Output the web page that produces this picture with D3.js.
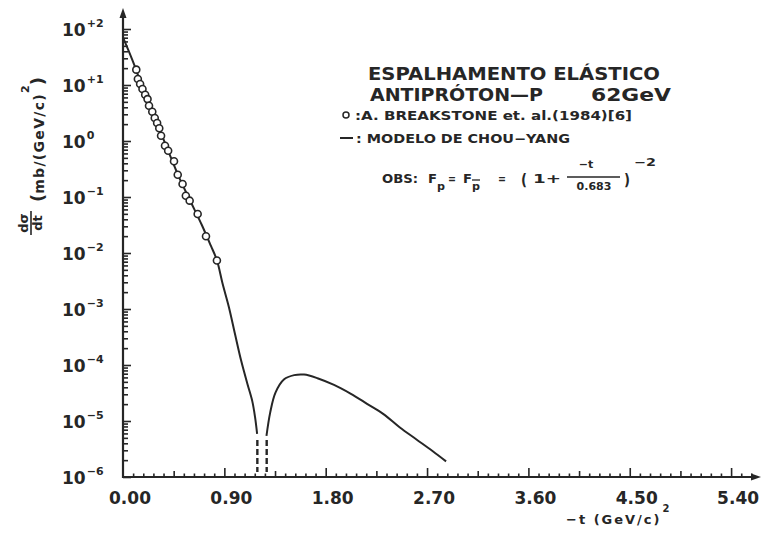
<!DOCTYPE html>
<html><head><meta charset="utf-8">
<script src="https://cdn.jsdelivr.net/npm/d3@7"></script>
<style>
body{margin:0;background:#fff}
svg{display:block}
text{font-family:"DejaVu Sans",sans-serif;font-weight:bold;fill:#262626}
</style>
</head><body>
<svg id="chart" width="768" height="533"></svg>
<script>
// ---- data ----
const dataT = [0.118,0.132,0.152,0.173,0.197,0.218,0.231,0.260,0.282,0.303,0.322,0.338,0.373,0.401,0.453,0.486,0.529,0.558,0.592,0.663,0.737,0.834];
const dataV = [18.8,12.8,10.4,8.5,6.7,5.6,4.27,3.33,2.58,2.10,1.69,1.24,0.824,0.671,0.434,0.250,0.171,0.105,0.086,0.0497,0.0199,0.00735];

const modelLeftT = [0,0.1,0.2,0.3,0.4,0.5,0.6,0.7,0.78,0.834,0.884,0.94,0.994,1.049,1.105,1.147,1.173,1.191];
const modelLeftV = [70.8,22.9,6.31,2.14,0.676,0.219,0.0832,0.0316,0.0135,0.00741,0.00285,0.00109,3.62e-4,1.2e-4,4.59e-5,2.31e-5,1.16e-5,5.9e-6];
const modelRightT = [1.274,1.307,1.354,1.431,1.52,1.608,1.727,1.874,2.02,2.167,2.313,2.459,2.606,2.751,2.869];
const modelRightV = [5.4e-6,1.41e-5,3.21e-5,5.56e-5,6.6e-5,6.75e-5,5.81e-5,4.40e-5,3.08e-5,2.03e-5,1.33e-5,7.66e-6,4.68e-6,2.88e-6,1.90e-6];
const dipT = [1.193,1.276];
const dipTopV = [4.6e-6,4.6e-6];

const xMajorTicks = [0,0.9,1.8,2.7,3.6,4.5,5.4];
const xTickLabels = ["0.00","0.90","1.80","2.70","3.60","4.50","5.40"];
const yMajorExp = [2,1,0,-1,-2,-3,-4,-5,-6];
const yTickLabels = ["+2","+1","0","\u22121","\u22122","\u22123","\u22124","\u22125","\u22126"];

// ---- scales ----
const svg = d3.select("#chart");
const x0 = 123, yBase = 477;
const x = d3.scaleLinear().domain([0,5.63]).range([x0,757]);
const y = d3.scaleLog().domain([1e-6,Math.pow(10,2.3)]).range([yBase,yBase-8.3*56]);
const ink = "#262626";

// ---- y axis ----
const yMajor = yMajorExp.map(e=>Math.pow(10,e));
const yMinor = [];
for(let e=-6;e<2;e++) for(let k=2;k<=9;k++) yMinor.push(k*Math.pow(10,e));
function styleAxis(g){g.select(".domain").remove();g.selectAll("line").attr("stroke",ink).attr("stroke-width",1.6);g.selectAll("text").remove();}
svg.append("g").attr("transform",`translate(${x0},0)`).call(d3.axisRight(y).tickValues(yMajor).tickSize(8).tickFormat("")).call(styleAxis);
svg.append("g").attr("transform",`translate(${x0},0)`).call(d3.axisRight(y).tickValues(yMinor).tickSize(5).tickFormat("")).call(styleAxis);
svg.append("line").attr("x1",x0).attr("x2",x0).attr("y1",yBase+1).attr("y2",16).attr("stroke",ink).attr("stroke-width",2.2);
svg.append("path").attr("d",`M${x0},8 L${x0-3.5},18 L${x0+3.5},18 Z`).attr("fill",ink);

// y tick labels
yMajorExp.forEach((e,i)=>{
  const t = svg.append("text").attr("x",62).attr("y",y(Math.pow(10,e))+7).attr("font-size",17);
  t.append("tspan").text("10");
  t.append("tspan").attr("dy",-9).attr("dx",1).attr("font-size",11).text(yTickLabels[i]);
});

// ---- x axis ----
const xMid = [], xMinor = [];
for(let i=1;i<=62;i++){ const v=+(i*0.09).toFixed(2); if(i%10===0) continue; if(i%5===0) xMid.push(v); else xMinor.push(v); }
svg.append("g").attr("transform",`translate(0,${yBase})`).call(d3.axisTop(x).tickValues(xMajorTicks.slice(1)).tickSize(9).tickFormat("")).call(styleAxis);
svg.append("g").attr("transform",`translate(0,${yBase})`).call(d3.axisTop(x).tickValues(xMid).tickSize(6).tickFormat("")).call(styleAxis);
svg.append("g").attr("transform",`translate(0,${yBase})`).call(d3.axisTop(x).tickValues(xMinor).tickSize(3.5).tickFormat("")).call(styleAxis);
svg.append("line").attr("x1",x0-1).attr("x2",752).attr("y1",yBase).attr("y2",yBase).attr("stroke",ink).attr("stroke-width",2.2);
svg.append("path").attr("d",`M761,${yBase} L751,${yBase-3.5} L751,${yBase+3.5} Z`).attr("fill",ink);

xMajorTicks.forEach((v,i)=>{
  svg.append("text").attr("x",x(v)+7).attr("y",504).attr("text-anchor","middle").attr("font-size",17).text(xTickLabels[i]);
});

// x title
const xt = svg.append("text").attr("x",566).attr("y",524).attr("font-size",13);
xt.append("tspan").attr("letter-spacing",2).text("\u2212t (GeV/c)");
xt.append("tspan").attr("dy",-12).attr("dx",1).attr("font-size",10).text("2");

// y title (rotated)
const yt = svg.append("g");
yt.append("text").attr("transform","translate(28,223) rotate(-90)").attr("text-anchor","middle").attr("font-size",13).text("d\u03c3");
yt.append("line").attr("x1",31).attr("x2",31).attr("y1",211).attr("y2",235).attr("stroke",ink).attr("stroke-width",1.6);
yt.append("text").attr("transform","translate(42,223) rotate(-90)").attr("text-anchor","middle").attr("font-size",13).text("dt");
const ytt = yt.append("text").attr("transform","translate(44,202) rotate(-90)").attr("font-size",14);
ytt.append("tspan").attr("font-size",18).text("(");
ytt.append("tspan").attr("letter-spacing",1.3).text("mb/(GeV/c)");
ytt.append("tspan").attr("dy",-15).attr("font-size",11).text("2");
ytt.append("tspan").attr("dy",15).attr("font-size",18).text(")");

// ---- model curve ----
const line = d3.line().x(d=>x(d[0])).y(d=>y(d[1])).curve(d3.curveCatmullRom.alpha(0.5));
svg.append("path").datum(d3.zip(modelLeftT,modelLeftV)).attr("d",line).attr("fill","none").attr("stroke",ink).attr("stroke-width",2);
svg.append("path").datum(d3.zip(modelRightT,modelRightV)).attr("d",line).attr("fill","none").attr("stroke",ink).attr("stroke-width",2);
dipT.forEach((t,i)=>{
  svg.append("line").attr("x1",x(t)).attr("x2",x(t)).attr("y1",y(dipTopV[i])).attr("y2",yBase-5)
    .attr("stroke",ink).attr("stroke-width",2.4).attr("stroke-dasharray","6,3");
});

// ---- data points ----
svg.append("g").selectAll("circle").data(d3.zip(dataT,dataV)).join("circle")
  .attr("cx",d=>x(d[0])).attr("cy",d=>y(d[1])).attr("r",3.5)
  .attr("fill","#fff").attr("stroke",ink).attr("stroke-width",1.6);

// ---- annotation block ----
function label(xp,yp,size,len,str){
  return svg.append("text").attr("x",xp).attr("y",yp).attr("font-size",size)
    .attr("textLength",len).attr("lengthAdjust","spacingAndGlyphs").text(str);
}
label(368,80,17,292,"ESPALHAMENTO EL\u00c1STICO");
label(370,101,17,173,"ANTIPR\u00d3TON\u2014P");
label(591,101,17,80,"62GeV");
svg.append("circle").attr("cx",346).attr("cy",115).attr("r",3).attr("fill","#fff").attr("stroke",ink).attr("stroke-width",1.5);
label(355,120,12,277,":A. BREAKSTONE et. al.(1984)[6]");
svg.append("line").attr("x1",340).attr("x2",353).attr("y1",138).attr("y2",138).attr("stroke",ink).attr("stroke-width",2);
label(356,143,12,214,": MODELO DE CHOU\u2212YANG");

// formula
label(382,183,13,36,"OBS:");
label(428,183,13,9,"F");
label(437,190,11,8,"p");
label(448,183,13,8,"=");
label(463,183,13,9,"F");
label(472,190,11,8,"p");
svg.append("line").attr("x1",472).attr("x2",480).attr("y1",180).attr("y2",180).attr("stroke",ink).attr("stroke-width",1.3);
label(498,183,13,8,"=");
label(521,185,15,6,"(");
label(533,183,13,28,"1+");
svg.append("text").attr("x",586).attr("y",168).attr("text-anchor","middle").attr("font-size",11).text("\u2212t");
svg.append("line").attr("x1",567).attr("x2",620).attr("y1",177).attr("y2",177).attr("stroke",ink).attr("stroke-width",1.4);
svg.append("text").attr("x",594).attr("y",190).attr("text-anchor","middle").attr("font-size",11).text("0.683");
label(624,185,15,6,")");
label(634,166,11,22,"\u22122");
</script>
</body></html>
